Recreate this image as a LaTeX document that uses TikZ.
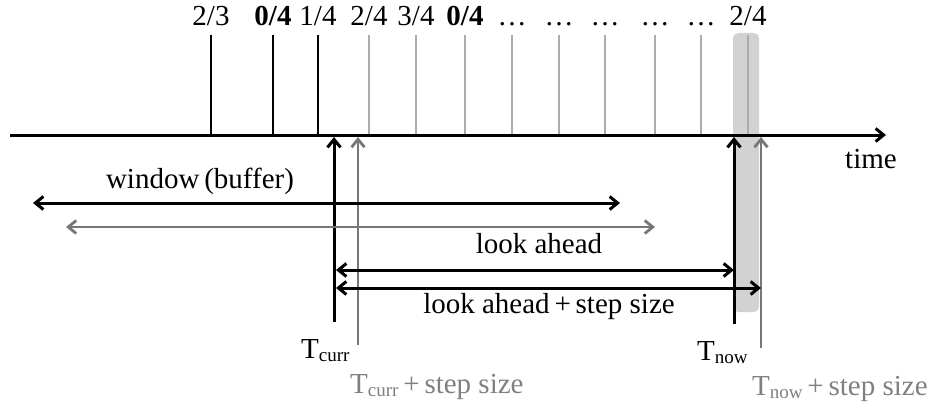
\documentclass[tikz,border=0pt]{standalone}
\usepackage{fontspec}
\setmainfont{Liberation Serif}
\usetikzlibrary{arrows.meta}
\definecolor{armgrey}{HTML}{777777}
\definecolor{tickgrey}{HTML}{ABABAB}
\definecolor{bandgrey}{HTML}{D2D2D2}
\definecolor{textgrey}{HTML}{808080}
\newcommand\smallsub[1]{\raisebox{-0.25ex}{\fontsize{19}{21}\selectfont #1}}
\begin{document}
\begin{tikzpicture}[x=1pt,y=-1pt,
  font=\fontsize{29}{32}\selectfont,
  barb/.tip={Straight Barb[length=8pt,width=13pt]},
  blackline/.style={line width=3pt,black},
  greyline/.style={line width=2.8pt,armgrey},
  oldtick/.style={line width=2.7pt,black},
  newtick/.style={line width=2.6pt,tickgrey},
  ticklabel/.style={anchor=base,inner sep=0pt},
  lbl/.style={anchor=base,inner sep=0pt},
  lblw/.style={anchor=base west,inner sep=0pt}]
\useasboundingbox (0,0) rectangle (928,404);

% shaded band around the current step
\fill[bandgrey,rounded corners=5pt] (733,33) rectangle (759,312);

% time axis
\coordinate (axL) at (10,135);
\coordinate (axR) at (886,135);
\draw[blackline,-barb] (axL) -- (axR);
\node[lbl] (time) at (871,168) {time};

% past samples (black ticks)
\foreach \x/\t/\n in {211/2\slash 3/a,273/\textbf{0\slash 4}/b,318/1\slash 4/c}{
  \coordinate (top\n) at (\x,35);
  \coordinate (bot\n) at (\x,135);
  \draw[oldtick] (top\n) -- (bot\n);
  \node[ticklabel] (lab\n) at (\x,26) {\t};
}
% future samples (grey ticks)
\foreach \x/\t/\n in {369/2\slash 4/d,416/3\slash 4/e,465/\textbf{0\slash 4}/f,
  512/\dots/g,559/\dots/h,605/\dots/i,655/\dots/j,701/\dots/k,748/2\slash 4/l}{
  \coordinate (top\n) at (\x,35);
  \coordinate (bot\n) at (\x,134);
  \draw[newtick] (top\n) -- (bot\n);
  \node[ticklabel] (lab\n) at (\x,26) {\t};
}

% time markers
\coordinate (curB) at (334,322);  \coordinate (curT) at (334,137);
\coordinate (curSB) at (358,345); \coordinate (curST) at (358,137);
\coordinate (nowB) at (734,324);  \coordinate (nowT) at (734,137);
\coordinate (nowSB) at (761,348); \coordinate (nowST) at (761,137);
\draw[blackline,-barb] (curB) -- (curT);
\draw[greyline,-barb] (curSB) -- (curST);
\draw[blackline,-barb] (nowB) -- (nowT);
\draw[greyline,-barb] (nowSB) -- (nowST);

% window (buffer)
\coordinate (winL) at (33,203);  \coordinate (winR) at (620,203);
\coordinate (winSL) at (66,227); \coordinate (winSR) at (655,227);
\draw[blackline,barb-barb] (winL) -- (winR);
\draw[greyline,barb-barb] (winSL) -- (winSR);
\node[lbl] (window) at (200,188) {window\,(buffer)};

% look ahead
\coordinate (laL) at (336,270);  \coordinate (laR) at (734,270);
\coordinate (lasL) at (336,288); \coordinate (lasR) at (761,288);
\draw[blackline,barb-barb] (laL) -- (laR);
\draw[blackline,barb-barb] (lasL) -- (lasR);
\node[lbl] (look) at (539,253) {look ahead};
\node[lbl] (lookstep) at (549,313) {look ahead\,+\,step size};

% marker labels
\node[lblw] (tcurr) at (301,358) {T\smallsub{curr}};
\node[lblw,textgrey] (tcurrs) at (350,393) {T\smallsub{curr}\,+\,step size};
\node[lblw] (tnow) at (697,360) {T\smallsub{now}};
\node[lblw,textgrey] (tnows) at (752,395) {T\smallsub{now}\,+\,step size};
\end{tikzpicture}
\end{document}
